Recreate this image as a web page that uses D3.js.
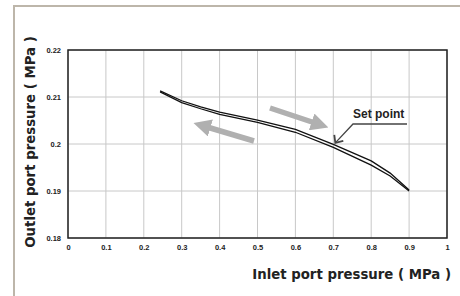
<!DOCTYPE html>
<html>
<head>
<meta charset="utf-8">
<script src="https://d3js.org/d3.v7.min.js"></script>
<style>
  body { margin: 0; background: #fff; }
  svg { display: block; font-family: "Liberation Sans", Arial, sans-serif; }
</style>
</head>
<body>
<svg id="chart"></svg>
<script>
    var W = 460, H = 296;
    var margin = { left: 68, top: 50, right: 13, bottom: 58 };

    // data
    var inlet = [0.243, 0.3, 0.35, 0.4, 0.5, 0.6, 0.7, 0.8, 0.85, 0.9];
    var upper = [0.2113, 0.2092, 0.2079, 0.2068, 0.2051, 0.2031, 0.1999, 0.1964, 0.1938, 0.1902];
    var lower = [0.2111, 0.2088, 0.2075, 0.2063, 0.2046, 0.2025, 0.1993, 0.1955, 0.1932, 0.1900];
    var xTicks = [0, 0.1, 0.2, 0.3, 0.4, 0.5, 0.6, 0.7, 0.8, 0.9, 1];
    var yTicks = [0.18, 0.19, 0.2, 0.21, 0.22];
    var setPoint = [0.7, 0.1996];

    var svg = d3.select("#chart").attr("width", W).attr("height", H);

    // outer frame
    svg.append("path")
        .attr("d", "M14," + H + "V6H" + W)
        .attr("fill", "none").attr("stroke", "#bdb6aa").attr("stroke-width", 2);

    var x = d3.scaleLinear().domain([0, 1]).range([margin.left, W - margin.right]);
    var y = d3.scaleLinear().domain([0.18, 0.22]).range([H - margin.bottom, margin.top]);

    // grid
    svg.append("g").selectAll("line").data(xTicks).enter().append("line")
        .attr("x1", function(d) { return x(d); }).attr("x2", function(d) { return x(d); })
        .attr("y1", y(0.18)).attr("y2", y(0.22))
        .attr("stroke", "#c8c8c8").attr("stroke-width", 1);
    svg.append("g").selectAll("line").data(yTicks).enter().append("line")
        .attr("y1", function(d) { return y(d); }).attr("y2", function(d) { return y(d); })
        .attr("x1", x(0)).attr("x2", x(1))
        .attr("stroke", "#c8c8c8").attr("stroke-width", 1);

    // plot box
    svg.append("rect")
        .attr("x", x(0)).attr("y", y(0.22))
        .attr("width", x(1) - x(0)).attr("height", y(0.18) - y(0.22))
        .attr("fill", "none").attr("stroke", "#222").attr("stroke-width", 1.5);

    // axes (labels only)
    var xAxis = svg.append("g").attr("transform", "translate(0," + (y(0.18) + 4) + ")")
        .call(d3.axisBottom(x).tickValues(xTicks).tickSize(0).tickFormat(d3.format("")));
    var yAxis = svg.append("g").attr("transform", "translate(" + (x(0) - 4) + ",0)")
        .call(d3.axisLeft(y).tickValues(yTicks).tickSize(0).tickFormat(d3.format("")));
    [xAxis, yAxis].forEach(function(a) {
        a.select(".domain").remove();
        a.selectAll("text").attr("font-size", 7.5).attr("font-weight", "bold")
            .attr("fill", "#222").attr("font-family", "Liberation Sans, Arial, sans-serif");
    });

    // arrows
    svg.append("defs").append("marker")
        .attr("id", "head").attr("viewBox", "0 0 10 10")
        .attr("refX", 2).attr("refY", 5)
        .attr("markerWidth", 3.2).attr("markerHeight", 3.2)
        .attr("orient", "auto")
        .append("path").attr("d", "M0,0L10,5L0,10z").attr("fill", "#b0b0b0");

    svg.append("line")
        .attr("x1", 254).attr("y1", 141).attr("x2", 207).attr("y2", 127)
        .attr("stroke", "#b0b0b0").attr("stroke-width", 5.5).attr("marker-end", "url(#head)");
    svg.append("line")
        .attr("x1", 270).attr("y1", 108).attr("x2", 315).attr("y2", 123)
        .attr("stroke", "#b0b0b0").attr("stroke-width", 5.5).attr("marker-end", "url(#head)");

    // curves
    var line = d3.line().x(function(d) { return x(d[0]); }).y(function(d) { return y(d[1]); });
    [upper, lower].forEach(function(series) {
        svg.append("path")
            .datum(inlet.map(function(v, i) { return [v, series[i]]; }))
            .attr("d", line)
            .attr("fill", "none").attr("stroke", "#111").attr("stroke-width", 1.3);
    });

    // set point annotation
    var sx = x(setPoint[0]) + 2, sy = y(setPoint[1]) - 3;
    svg.append("path")
        .attr("d", "M407,124H353L" + sx + "," + sy)
        .attr("fill", "none").attr("stroke", "#444").attr("stroke-width", 1.3);
    svg.append("path")
        .attr("d", "M" + (sx - 1) + "," + (sy - 8) + "L" + sx + "," + sy + "L" + (sx + 8) + "," + (sy - 2))
        .attr("fill", "none").attr("stroke", "#444").attr("stroke-width", 1.8);
    svg.append("text")
        .attr("x", 353).attr("y", 118)
        .attr("font-size", 12).attr("font-weight", "bold").attr("fill", "#222")
        .text("Set point");

    // axis titles
    svg.append("text")
        .attr("x", 451).attr("y", 279).attr("text-anchor", "end")
        .attr("font-family", "DejaVu Sans, sans-serif")
        .attr("font-size", 13.3).attr("font-weight", "bold").attr("fill", "#222")
        .text("Inlet port pressure ( MPa )");
    svg.append("text")
        .attr("transform", "translate(35,142) rotate(-90)").attr("text-anchor", "middle")
        .attr("font-family", "DejaVu Sans, sans-serif")
        .attr("font-size", 13.3).attr("font-weight", "bold").attr("fill", "#222")
        .text("Outlet port pressure ( MPa )");
</script>
</body>
</html>
